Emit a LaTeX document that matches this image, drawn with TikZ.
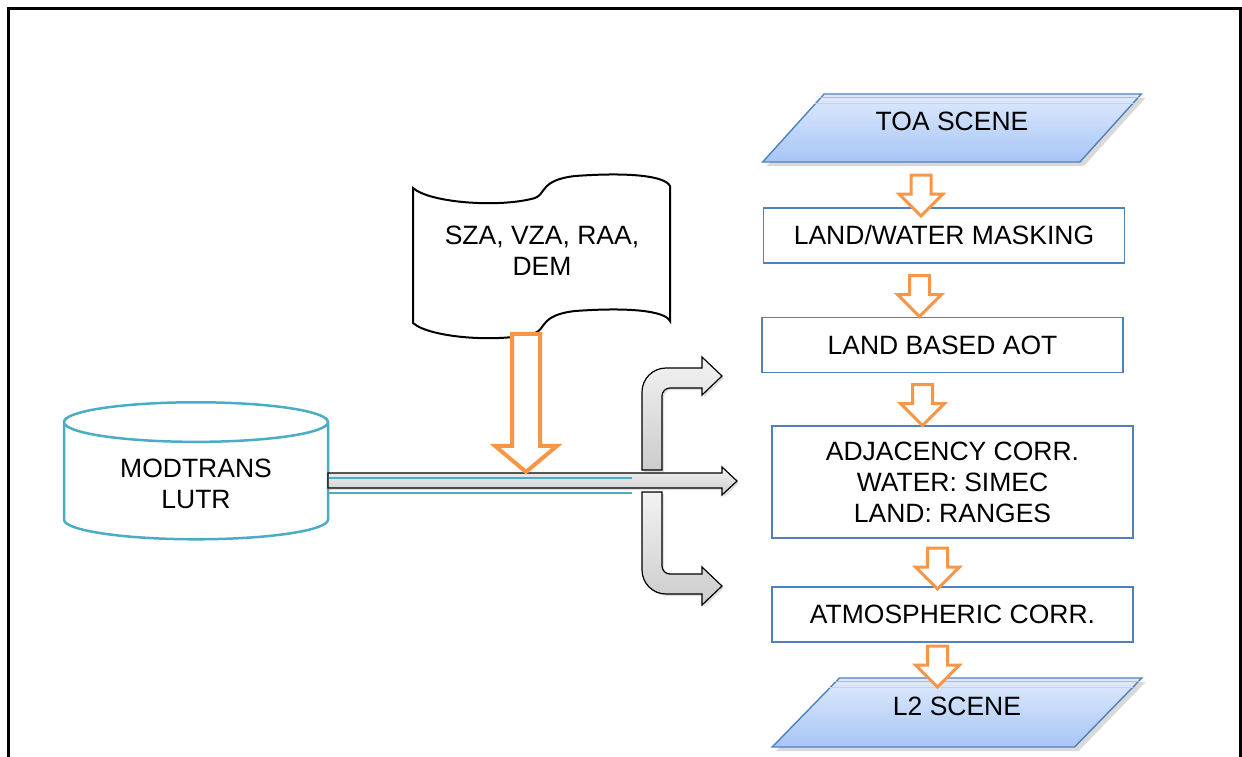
\documentclass[tikz,border=0pt]{standalone}
\usepackage{fontspec}
\setmainfont{Liberation Sans}
\usetikzlibrary{
	arrows.meta,
	shapes.geometric,
	shapes.arrows,
	shadows,
	calc,
	positioning,
}
\definecolor{boxblue}{HTML}{4F81BD}
\definecolor{scenetop}{HTML}{DEEAFC}
\definecolor{scenebottom}{HTML}{A7C5F5}
\definecolor{lutteal}{HTML}{4BACC6}
\definecolor{floworange}{HTML}{F79646}
\newcommand\flowfont{\fontsize{26.5}{31}\selectfont}
\tikzset{stepbox/.style={
		% The shape:
		rectangle,
		% The size:
		minimum width=361pt, minimum height=55pt,
		% The border:
		draw=boxblue, line width=1.4pt,
		% The filling:
		fill=white,
		% text
		align=center, font=\flowfont,
}}
\tikzset{scene/.style={
		% The shape: a slanted data box
		trapezium, trapezium left angle=42, trapezium right angle=138,
		trapezium stretches=true,
		% The size:
		minimum width=380pt, minimum height=68pt, inner sep=0pt,
		% The border:
		draw=boxblue, line width=1.4pt,
		% The filling:
		top color=scenetop, bottom color=scenebottom,
		drop shadow={opacity=.3, shadow xshift=4pt, shadow yshift=-4pt},
		% text sits a little above the middle
		text height=19pt, text depth=14pt, font=\flowfont,
}}
\tikzset{flowdown/.style={
		% The shape:
		single arrow, shape border rotate=270,
		% The size:
		inner sep=8.5pt, single arrow head extend=12pt,
		minimum height=41pt,
		% The border:
		draw=floworange, line width=3pt, fill=white,
}}
\tikzset{lutbase/.style={
		% The shape:
		cylinder, shape border rotate=90, aspect=0.25,
		% The size:
		minimum width=264pt, minimum height=137pt,
		% The border:
		draw=lutteal, line width=2.5pt,
		align=center, font=\flowfont,
}}
\tikzset{grayarrow/.style={
		draw=black, line width=1.2pt,
		top color=gray!10, bottom color=gray!40,
		drop shadow={opacity=.25, shadow xshift=2pt, shadow yshift=-2pt},
}}

\begin{document}
\begin{tikzpicture}[x=1pt,y=-1pt,line join=miter]
	\useasboundingbox (0,0) rectangle (1242,756);
	\draw [line width=3pt] (8,780) -- (8,8) -- (1240,8) -- (1240,780);
	
	% processing chain
	\node [scene] (toa) at (952,128) {TOA SCENE};
	\node [stepbox] (mask) at (944,235.5) {LAND/WATER MASKING};
	\node [stepbox] (aot) at (942.5,345) {LAND BASED AOT};
	\node [stepbox, minimum height=112pt] (adj) at (952.5,482) {ADJACENCY CORR.\\WATER: SIMEC\\LAND: RANGES};
	\node [stepbox] (atm) at (952.5,614.5) {ATMOSPHERIC CORR.};
	\node [scene, minimum width=370pt, minimum height=69pt] (l2) at (957,712.5) {L2 SCENE};
	\foreach \s in {toa,l2} {
		\draw [gray!55, line width=0.8pt] ($(\s.top left corner)!0.06!(\s.bottom left corner)$) -- ($(\s.top right corner)!0.06!(\s.bottom right corner)$);
		\draw [gray!35, line width=0.8pt] ($(\s.top left corner)!0.15!(\s.bottom left corner)$) -- ($(\s.top right corner)!0.15!(\s.bottom right corner)$);
	}
	\node [flowdown] (f1) at (921,190.5) {};
	\node [flowdown] (f2) at (919.5,291) {};
	\node [flowdown] (f3) at (922.5,400) {};
	\node [flowdown] (f4) at (937.5,563.5) {};
	\node [flowdown] (f5) at (937.5,661.5) {};
	
	% inputs
	\node [lutbase] (lut) at (196,483.5) {MODTRANS\\LUTR};
	\node [align=center, font=\flowfont] (angles) at (542,251) {SZA, VZA, RAA,\\DEM};
	\draw [line width=2pt] (413,188) .. controls (430,203) and (500,208) .. (535,198)
		.. controls (546,194) and (540,180) .. (575,176)
		.. controls (630,172) and (665,176) .. (670,186) -- (670,321)
		.. controls (665,311) and (630,307) .. (575,311)
		.. controls (540,315) and (546,329) .. (535,333)
		.. controls (500,343) and (430,338) .. (413,323) -- cycle;
	
	% branches to the chain
	\draw [grayarrow] (642,470) -- (642,392) arc [start angle=180, end angle=270, radius=24]
		-- (702,368) -- (702,357) -- (722,376) -- (702,395) -- (702,388) -- (670,388)
		arc [start angle=270, end angle=180, radius=8] -- (662,470) -- cycle;
	\draw [grayarrow] (642,492) -- (642,570) arc [start angle=180, end angle=90, radius=24]
		-- (702,594) -- (702,605) -- (722,586) -- (702,567) -- (702,574) -- (670,574)
		arc [start angle=90, end angle=180, radius=8] -- (662,492) -- cycle;
	\draw [grayarrow] (328,473) -- (722,473) -- (722,467) -- (737,481) -- (722,495) -- (722,488) -- (328,488) -- cycle;
	\draw [lutteal, line width=1.2pt] (329,478) -- (632,478);
	\draw [lutteal, line width=1.2pt] (329,493) -- (632,493);
	\node [flowdown, inner sep=12pt, single arrow head extend=17pt, single arrow tip angle=100,
		minimum height=138pt, line width=4pt] (fin) at (526,397) {};
\end{tikzpicture}
\end{document}
